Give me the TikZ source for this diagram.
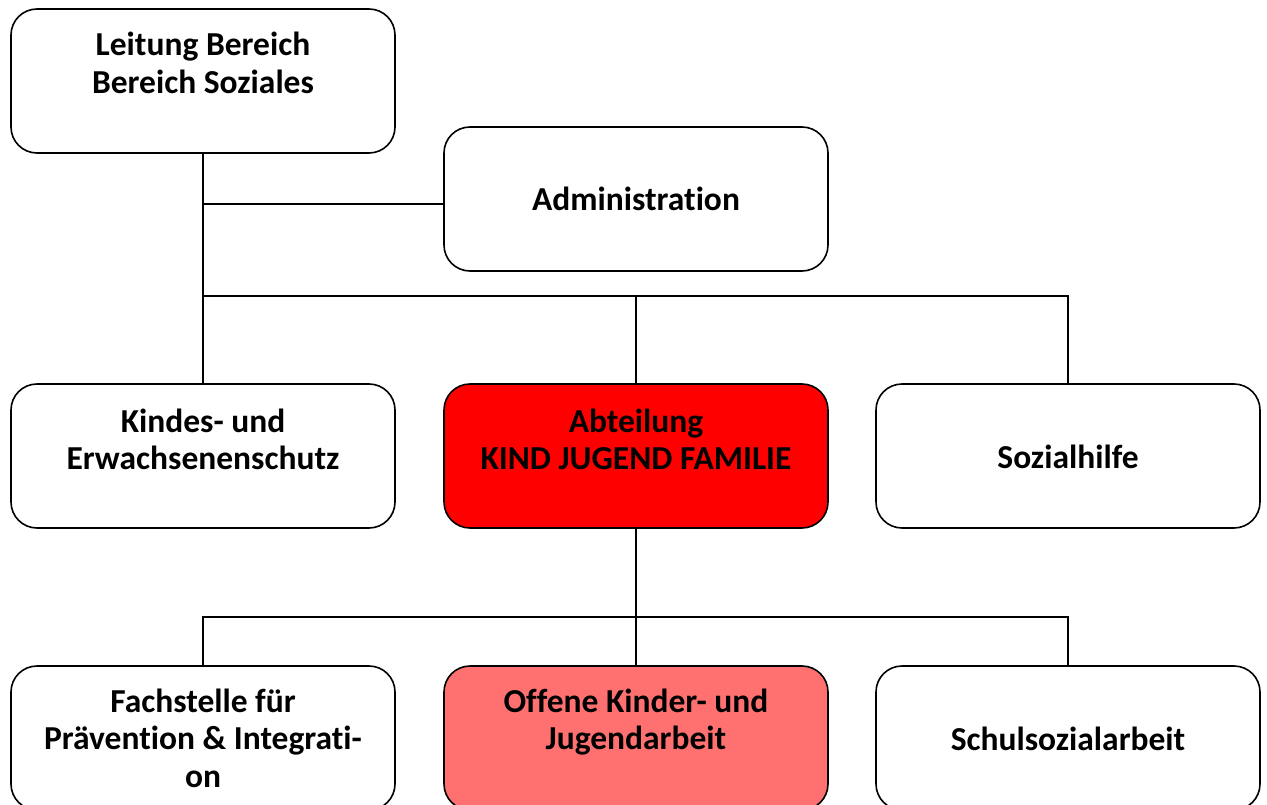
\documentclass[tikz,border=0pt]{standalone}
\usepackage{fontspec}
\setmainfont{Carlito}[Ligatures=NoCommon]
\definecolor{abtred}{RGB}{255,0,0}
\definecolor{lightred}{RGB}{255,113,113}
\newcommand{\boxtext}[1]{\parbox[t]{370pt}{\centering #1}}
\begin{document}
\begin{tikzpicture}[x=1pt,y=-1pt,
  box/.style={draw=black, line width=1.6pt, rounded corners=26pt,
    minimum width=384pt, minimum height=144pt, inner sep=0pt},
  txt/.style={anchor=base, inner sep=0pt,
    font=\fontsize{33.5}{37.5}\selectfont\bfseries},
  conn/.style={draw=black, line width=1.6pt}]
\clip (0,0) rectangle (1267,805);
\fill[white] (0,0) rectangle (1267,805);
% boxes
\node[box] (lead) at (203,81) {};
\node[box] (admin) at (636,199) {};
\node[box] (kind) at (203,456) {};
\node[box, fill=abtred] (abt) at (636,456) {};
\node[box] (soz) at (1068,456) {};
\node[box] (fach) at (203,738) {};
\node[box, fill=lightred] (off) at (636,738) {};
\node[box] (schul) at (1068,738) {};
% texts
\node[txt] (leadT) at (203,56) {\boxtext{Leitung Bereich\\Bereich Soziales}};
\node[txt] (adminT) at (636,211) {\boxtext{Administration}};
\node[txt] (kindT) at (203,432) {\boxtext{Kindes- und\\Erwachsenenschutz}};
\node[txt] (abtT) at (636,432) {\boxtext{Abteilung\\KIND JUGEND FAMILIE}};
\node[txt] (sozT) at (1068,468) {\boxtext{Sozialhilfe}};
\node[txt] (fachT) at (203,712) {\boxtext{Fachstelle für\\Prävention \& Integrati-\\on}};
\node[txt] (offT) at (636,712) {\boxtext{Offene Kinder- und\\Jugendarbeit}};
\node[txt] (schulT) at (1068,750) {\boxtext{Schulsozialarbeit}};
% junctions
\coordinate (ja) at (203,204);
\coordinate (j1) at (203,296);
\coordinate (j2) at (636,617);
% connectors
\draw[conn] (lead.south) -- (kind.north);
\draw[conn] (ja) -- (ja -| admin.west);
\draw[conn] (j1) -| (soz.north);
\draw[conn] (j1 -| abt.north) -- (abt.north);
\draw[conn] (abt.south) -- (off.north);
\draw[conn] (fach.north) |- (j2) -| (schul.north);
\end{tikzpicture}
\end{document}
